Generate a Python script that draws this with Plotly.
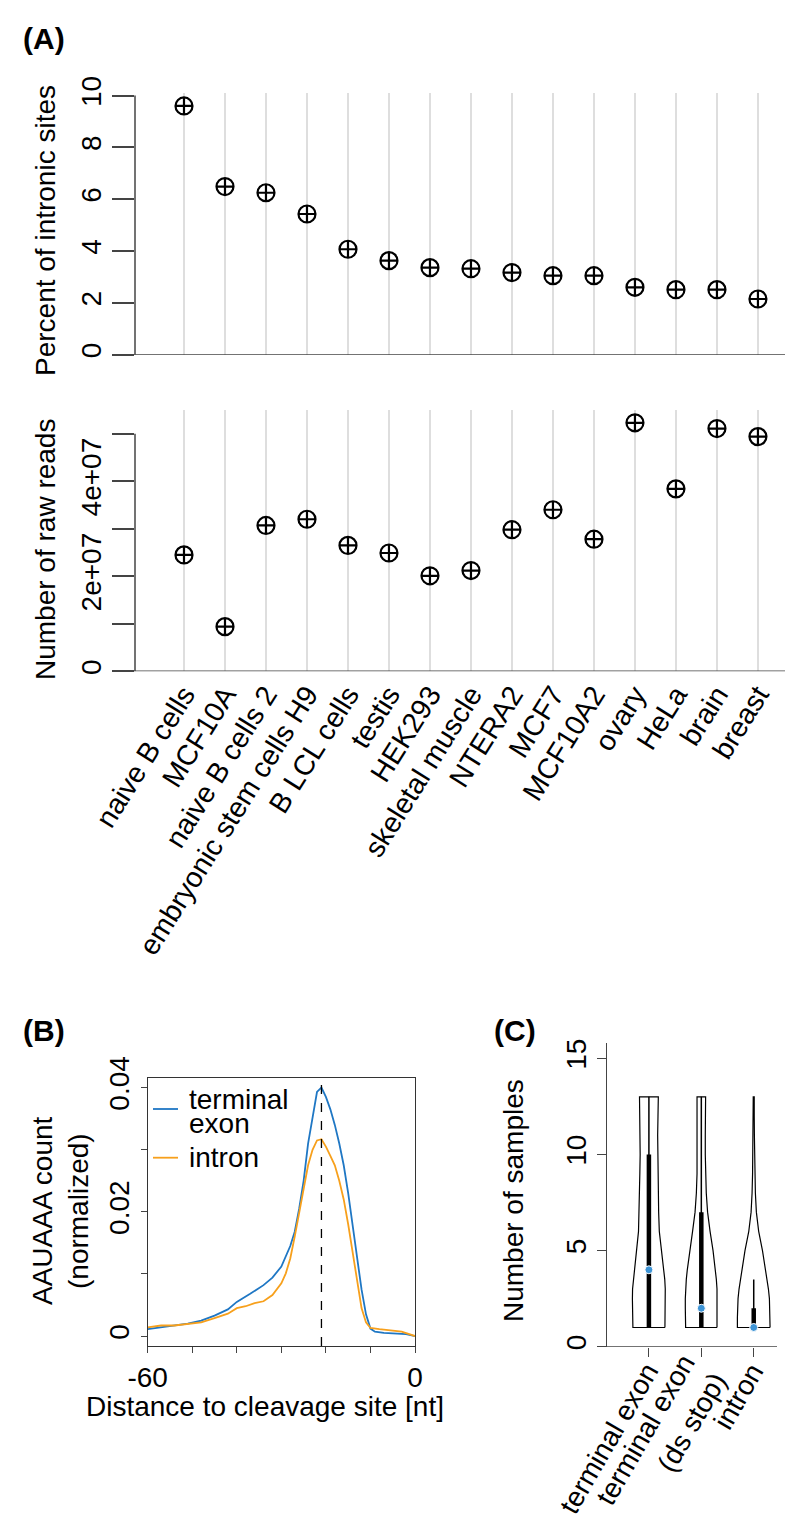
import plotly.graph_objects as go

# ---------------- data ----------------
samples = ["naive B cells", "MCF10A", "naive B cells 2", "embryonic stem cells H9",
           "B LCL cells", "testis", "HEK293", "skeletal muscle", "NTERA2", "MCF7",
           "MCF10A2", "ovary", "HeLa", "brain", "breast"]
pct_intronic = [9.60, 6.49, 6.25, 5.43, 4.07, 3.63, 3.36, 3.32, 3.17, 3.05, 3.05, 2.60, 2.51, 2.51, 2.15]
raw_reads = [2.45e7, 0.94e7, 3.07e7, 3.20e7, 2.65e7, 2.49e7, 2.01e7, 2.12e7, 2.98e7, 3.40e7,
             2.78e7, 5.23e7, 3.84e7, 5.11e7, 4.94e7]

te_pos = [-60, -57, -54, -51, -48, -45, -42, -40, -37, -34, -32, -30, -28, -27, -26, -25, -24, -23,
          -22, -21, -20, -19, -18, -17, -16, -15, -14, -13, -12, -11, -10, -9, -7, -4, -2, 0]
te_count = [0.0011, 0.0014, 0.0016, 0.0020, 0.0025, 0.0033, 0.0043, 0.0055, 0.0068, 0.0082, 0.0094,
            0.0112, 0.0145, 0.0168, 0.0205, 0.0250, 0.0310, 0.0355, 0.0393, 0.0400, 0.0385, 0.0365,
            0.0340, 0.0310, 0.0275, 0.0230, 0.0180, 0.0130, 0.0075, 0.0035, 0.0012, 0.0007, 0.0005,
            0.0004, 0.0003, 0.0000]
intron_pos = [-60, -57, -54, -51, -48, -45, -42, -40, -38, -36, -34, -32, -30, -29, -28, -27, -26, -25,
              -24, -23, -22, -21, -20, -19, -18, -17, -16, -15, -14, -13, -12, -11, -10, -8, -5, -3, 0]
intron_count = [0.0014, 0.0017, 0.0017, 0.0019, 0.0022, 0.0029, 0.0036, 0.0045, 0.0048, 0.0053, 0.0056,
                0.0066, 0.0085, 0.0101, 0.0125, 0.0160, 0.0200, 0.0240, 0.0275, 0.0300, 0.0315, 0.0317,
                0.0305, 0.0290, 0.0275, 0.0250, 0.0220, 0.0180, 0.0135, 0.0085, 0.0045, 0.0022, 0.0013,
                0.0011, 0.0009, 0.0007, 0.0000]
peak_pos = -21

site_classes = ["terminal exon", "terminal exon<br>(ds stop)", "intron"]
density_levels = [1, 1.5, 2, 2.5, 3, 3.5, 4, 5, 6, 7, 8, 9, 10, 11, 12, 13]
density_te = [0.97, 0.98, 0.99, 1.00, 0.99, 0.96, 0.89, 0.75, 0.63, 0.59, 0.57, 0.55, 0.53, 0.53, 0.55, 0.57]
density_te_ds = [0.95, 0.96, 0.97, 0.97, 0.95, 0.91, 0.85, 0.71, 0.53, 0.38, 0.30, 0.26, 0.24, 0.24, 0.25, 0.26]
density_intron = [0.99, 0.99, 0.98, 0.95, 0.89, 0.81, 0.71, 0.53, 0.30, 0.16, 0.10, 0.07, 0.05, 0.04, 0.03, 0.03]
whisker_low = [1, 1, 1]
q1 = [1, 1, 1]
median = [4, 2, 1]
q3 = [10, 7, 2]
whisker_high = [13, 13, 3.5]

# ---------------- helpers ----------------
W, H = 800, 1539
def px(x): return x / W
def py(y): return 1 - y / H

FONT = "Liberation Sans, Arial, sans-serif"
FS = 28
AX = "#444444"

fig = go.Figure()

xs = list(range(1, len(samples) + 1))
mk = dict(symbol="circle-cross-open", size=17, color="black", line=dict(width=2.2, color="black"))
fig.add_trace(go.Scatter(x=xs, y=pct_intronic, mode="markers", marker=mk, xaxis="x", yaxis="y"))
fig.add_trace(go.Scatter(x=xs, y=raw_reads, mode="markers", marker=mk, xaxis="x2", yaxis="y2"))

fig.add_trace(go.Scatter(x=te_pos, y=te_count, mode="lines", line=dict(color="#1f77c4", width=1.8),
                         xaxis="x3", yaxis="y3"))
fig.add_trace(go.Scatter(x=intron_pos, y=intron_count, mode="lines", line=dict(color="#f7a01c", width=1.8),
                         xaxis="x3", yaxis="y3"))

max_hw = 0.315
for i, dens in enumerate([density_te, density_te_ds, density_intron]):
    c = i + 1
    xr = [c + d * max_hw for d in dens]
    xl = [c - d * max_hw for d in dens]
    vx = xr + xl[::-1] + [xr[0]]
    vy = density_levels + density_levels[::-1] + [density_levels[0]]
    fig.add_trace(go.Scatter(x=vx, y=vy, mode="lines", fill="toself", fillcolor="white",
                             line=dict(color="black", width=1.2), xaxis="x4", yaxis="y4"))
    fig.add_trace(go.Scatter(x=[c, c], y=[whisker_low[i], whisker_high[i]], mode="lines",
                             line=dict(color="black", width=1.5), xaxis="x4", yaxis="y4"))
    fig.add_trace(go.Scatter(x=[c, c], y=[q1[i], q3[i]], mode="lines",
                             line=dict(color="black", width=4.5), xaxis="x4", yaxis="y4"))
    fig.add_trace(go.Scatter(x=[c], y=[median[i]], mode="markers",
                             marker=dict(color="#3d94d6", size=8, line=dict(color="white", width=1)),
                             xaxis="x4", yaxis="y4"))

tf = dict(family=FONT, size=FS, color="black")
common = dict(automargin=False, zeroline=False)

xA_range = [-0.195, 15.66]
fig.update_layout(
    template="none",
    xaxis=dict(domain=[px(135), px(785)], range=xA_range, tickvals=xs, showticklabels=False,
               ticks="", showgrid=True, gridcolor="#dedede", gridwidth=2,
               showline=False, anchor="y", **common),
    yaxis=dict(domain=[py(354.7), py(93)], range=[0, 10.1], tickvals=[0, 2, 4, 6, 8, 10],
               ticks="outside", ticklen=22, tickwidth=1.5, tickcolor=AX, tickangle=-90,
               tickfont=tf, showgrid=False, showline=False, anchor="x", **common),
    xaxis2=dict(domain=[px(135), px(785)], range=xA_range, tickvals=xs, ticktext=samples,
                tickangle=-58, tickfont=dict(family=FONT, size=28.5, color="black"), ticks="",
                showgrid=True, gridcolor="#dedede",
                gridwidth=2, showline=False, anchor="y2", **common),
    yaxis2=dict(domain=[py(671.3), py(410)], range=[0, 5.5e7],
                tickvals=[0, 1e7, 2e7, 3e7, 4e7, 5e7],
                ticktext=["0", "", "2e+07", "", "4e+07", ""],
                ticks="outside", ticklen=22, tickwidth=1.5, tickcolor=AX, tickangle=-90,
                tickfont=tf, showgrid=False, showline=False, anchor="x2", **common),
    xaxis3=dict(domain=[px(147.7), px(415)], range=[-60, 0], tickvals=[-60, -50, -40, -30, -20, -10, 0],
                ticktext=["-60", "", "", "", "", "", "0"], ticks="outside", ticklen=6, tickwidth=1.3,
                tickcolor=AX, tickfont=tf, showline=True, linecolor="#333", linewidth=1.3, mirror=True,
                showgrid=False, anchor="y3", **common),
    yaxis3=dict(domain=[py(1346), py(1077.7)], range=[-0.0016, 0.0416],
                tickvals=[0, 0.01, 0.02, 0.03, 0.04], ticktext=["0", "", "0.02", "", "0.04"],
                ticks="outside", ticklen=6, tickwidth=1.3, tickcolor=AX, tickangle=-90, tickfont=tf,
                showline=True, linecolor="#333", linewidth=1.3, mirror=True, showgrid=False,
                anchor="x3", **common),
    xaxis4=dict(domain=[px(607.3), px(777)], range=[0.206, 3.444], tickvals=[1, 2, 3],
                showticklabels=False, ticks="outside", ticklen=9,
                tickwidth=1.3, tickcolor=AX, showline=False, showgrid=False,
                anchor="y4", **common),
    yaxis4=dict(domain=[py(1346.7), py(1043)], range=[0, 15.8], tickvals=[0, 5, 10, 15],
                ticks="outside", ticklen=9, tickwidth=1.3, tickcolor=AX, tickangle=-90, tickfont=tf,
                showline=True, linecolor=AX, linewidth=1.3, showgrid=False,
                anchor="x4", **common),
)

shapes = []
shapes.append(dict(type="line", xref="paper", yref="y", x0=px(113), x1=px(785), y0=0, y1=0,
                   line=dict(color=AX, width=1.5)))
shapes.append(dict(type="line", xref="x domain", yref="y", x0=0, x1=0, y0=0, y1=10,
                   line=dict(color=AX, width=1.5)))
shapes.append(dict(type="line", xref="paper", yref="y2", x0=px(113), x1=px(785), y0=0, y1=0,
                   line=dict(color=AX, width=1.5)))
shapes.append(dict(type="line", xref="x2 domain", yref="y2", x0=0, x1=0, y0=0, y1=5e7,
                   line=dict(color=AX, width=1.5)))
shapes.append(dict(type="line", xref="x3", yref="y3 domain", x0=peak_pos, x1=peak_pos, y0=0, y1=1,
                   line=dict(color="black", width=1.3, dash="dash")))
shapes.append(dict(type="line", xref="paper", yref="paper", x0=px(153), x1=px(178), y0=py(1109), y1=py(1109),
                   line=dict(color="#1f77c4", width=1.8)))
shapes.append(dict(type="line", xref="paper", yref="paper", x0=px(153), x1=px(178), y0=py(1157.7), y1=py(1157.7),
                   line=dict(color="#f7a01c", width=1.8)))
shapes.append(dict(type="line", xref="paper", yref="y4", x0=px(598), x1=px(777), y0=0, y1=0,
                   line=dict(color=AX, width=1.3)))

def ann(text, x, y, angle=0, size=FS, bold=False, xanchor="center"):
    return dict(text=("<b>%s</b>" % text) if bold else text, x=px(x), y=py(y), xref="paper", yref="paper",
                showarrow=False, textangle=angle, xanchor=xanchor, yanchor="middle",
                font=dict(family=FONT, size=size, color="black"))

annotations = [
    ann("(A)", 44, 38, size=30, bold=True),
    ann("(B)", 44, 1030, size=30, bold=True),
    ann("(C)", 515, 1030, size=30, bold=True),
    ann("Percent of intronic sites", 45, 231, angle=-90),
    ann("Number of raw reads", 45, 550, angle=-90),
    ann("AAUAAA count", 42, 1211, angle=-90),
    ann("(normalized)", 78, 1211, angle=-90),
    ann("Distance to cleavage site [nt]", 265, 1406),
    ann("Number of samples", 513, 1201, angle=-90),
    ann("terminal", 187, 1099, xanchor="left"),
    ann("exon", 187, 1123, xanchor="left"),
    ann("intron", 187, 1157, xanchor="left"),
]

# Panel C category labels: rotated 60 deg, right end at each tick, centred on it
label_w = [168, 168, 70]   # approximate rendered widths (px) of the longest line
for i, lab in enumerate(site_classes):
    w = label_w[i]
    annotations.append(dict(text=lab, x=i + 1, y=0, xref="x4", yref="y4", showarrow=False,
                            textangle=-60, align="right", xanchor="center", yanchor="middle",
                            xshift=2 - w / 4, yshift=-(19 + 0.433 * w),
                            font=dict(family=FONT, size=FS, color="black")))

fig.update_layout(width=W, height=H, margin=dict(l=0, r=0, t=0, b=0), showlegend=False,
                  paper_bgcolor="white", plot_bgcolor="white", shapes=shapes, annotations=annotations,
                  font=dict(family=FONT, size=FS, color="black"))

fig.write_html("out.html", config={"displayModeBar": False},
               post_script="document.body.style.margin='0';")
